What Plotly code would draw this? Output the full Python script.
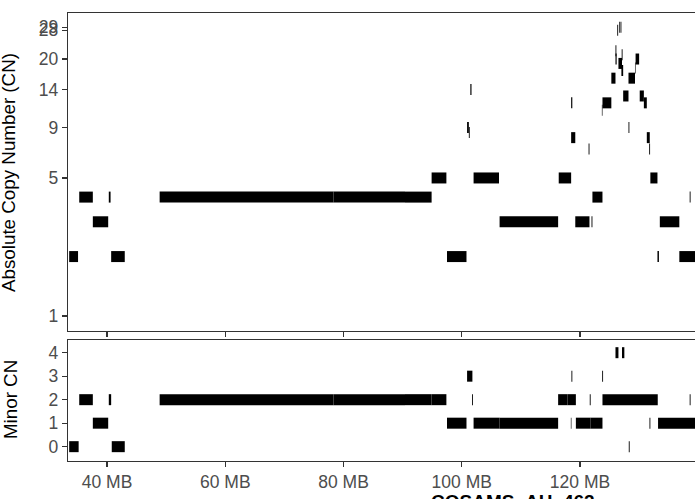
import plotly.graph_objects as go

# ---- Absolute copy number segments (MB start, MB end, CN) ----
top_start = [35.3, 40.3, 48.9, 78.3, 90.4, 122.1, 138.55,
             94.9, 102.0, 116.4, 131.9,
             37.6, 106.4, 119.2, 121.95, 133.5,
             33.6, 40.7, 78.27, 90.37, 97.5, 133.1, 136.8,
             100.9, 101.2, 101.45, 118.5, 123.8, 123.7, 125.3, 126.0, 126.0,
             126.3, 126.5, 126.6, 126.85, 127.05, 127.0, 127.3, 128.2, 128.2,
             129.3, 129.4, 130.1, 130.8, 131.3, 131.7, 118.5, 121.45]
top_end = [37.6, 40.6, 78.3, 90.4, 94.9, 123.8, 138.7,
           97.4, 106.3, 118.5, 133.1,
           40.2, 116.3, 121.6, 122.1, 136.8,
           35.1, 43.0, 78.33, 90.43, 100.8, 133.35, 139.5,
           101.2, 101.35, 101.65, 118.7, 125.3, 123.8, 126.0, 126.2, 126.15,
           126.45, 127.1, 126.72, 127.0, 127.2, 127.3, 128.2, 128.35, 129.3,
           129.4, 130.0, 130.8, 131.3, 131.8, 131.85, 119.2, 121.6]
top_cn = [4, 4, 4, 4, 4, 4, 4,
          5, 5, 5, 5,
          3, 3, 3, 3, 3,
          2, 2, 2, 2, 2, 2, 2,
          9, 8.5, 14, 12, 12, 11, 16, 20, 22,
          28, 19, 29, 29, 21, 17.5, 13, 9, 16,
          18, 20, 13, 12, 8, 7, 8, 7]

# ---- Minor copy number segments ----
minor_start = [35.3, 40.3, 48.9, 78.3, 90.4, 94.9, 101.75, 106.45, 116.3, 117.9, 121.65, 123.8, 138.55,
               37.6, 78.27, 97.5, 102.0, 106.4, 118.45, 119.3, 121.8, 127.17, 131.75, 133.2,
               33.6, 40.8, 90.37, 128.25,
               100.9, 118.55, 123.75, 128.2,
               126.0, 127.1]
minor_end = [37.6, 40.7, 78.3, 90.4, 94.9, 97.4, 101.9, 106.52, 117.9, 119.3, 121.8, 133.15, 138.7,
             40.2, 78.33, 100.8, 106.4, 116.3, 118.55, 121.8, 123.8, 127.23, 131.9, 139.5,
             35.2, 43.0, 90.45, 128.4,
             101.8, 118.7, 123.9, 128.27,
             126.5, 127.5]
minor_cn = [2, 2, 2, 2, 2, 2, 2, 2, 2, 2, 2, 2, 2,
            1, 1, 1, 1, 1, 1, 1, 1, 1, 1, 1,
            0, 0, 0, 0,
            3, 3, 3, 3,
            4, 4]

x_tickvals = [40, 60, 80, 100, 120]
x_ticktext = ["40 MB", "60 MB", "80 MB", "100 MB", "120 MB"]
top_tickvals = [1, 5, 9, 14, 20, 28, 29]
minor_tickvals = [0, 1, 2, 3, 4]


def seg_xy(starts, ends, vals):
    xs, ys = [], []
    for s, e, v in zip(starts, ends, vals):
        xs += [s, e, None]
        ys += [v, v, None]
    return xs, ys


fig = go.Figure()
tx, ty = seg_xy(top_start, top_end, top_cn)
fig.add_trace(go.Scatter(x=tx, y=ty, mode="lines", line=dict(color="black", width=11),
                         xaxis="x", yaxis="y", showlegend=False, hoverinfo="skip"))
mx, my = seg_xy(minor_start, minor_end, minor_cn)
fig.add_trace(go.Scatter(x=mx, y=my, mode="lines", line=dict(color="black", width=11),
                         xaxis="x2", yaxis="y2", showlegend=False, hoverinfo="skip"))

FONT = "Liberation Sans, Arial, sans-serif"
axis_common = dict(showline=True, linecolor="#333333", linewidth=1.2, ticks="outside",
                   ticklen=5, tickcolor="#333333", tickwidth=1.1, showgrid=False,
                   zeroline=False, automargin=False,
                   tickfont=dict(family=FONT, size=17.5, color="#4D4D4D"))
xr = [33.4, 139.45]
fig.update_layout(
    width=695, height=499,
    margin=dict(l=68, r=0, t=13, b=38),
    paper_bgcolor="white", plot_bgcolor="white",
    xaxis=dict(domain=[0, 1], anchor="y", range=xr, mirror=True, tickvals=x_tickvals,
               showticklabels=False, **axis_common),
    xaxis2=dict(domain=[0, 1], anchor="y2", range=xr, mirror=True, tickvals=x_tickvals,
                ticktext=x_ticktext, **axis_common),
    yaxis=dict(domain=[0.2902, 1], anchor="x", type="log", range=[-0.0757, 1.534],
               tickvals=top_tickvals, ticktext=[str(v) for v in top_tickvals], **axis_common),
    yaxis2=dict(domain=[0, 0.2701], anchor="x2", range=[-0.61, 4.54],
                tickvals=minor_tickvals, ticktext=[str(v) for v in minor_tickvals], **axis_common),
    annotations=[
        dict(text="Absolute Copy Number (CN)", textangle=-90, xref="paper", yref="paper",
             x=-0.0957, y=0.645, xanchor="center", yanchor="middle", showarrow=False,
             font=dict(family=FONT, size=18.8, color="black")),
        dict(text="Minor CN", textangle=-90, xref="paper", yref="paper",
             x=-0.0925, y=0.136, xanchor="center", yanchor="middle", showarrow=False,
             font=dict(family=FONT, size=18.8, color="black")),
        dict(text="<b>COSAMS_AH_462</b>", xref="paper", yref="paper",
             x=0.71, y=-0.063, xanchor="center", yanchor="top", showarrow=False,
             font=dict(family=FONT, size=19, color="black")),
    ],
)

fig.write_html("out.html", config={"displayModeBar": False, "staticPlot": True},
               post_script="document.body.style.margin='0';document.body.style.overflow='hidden';")
